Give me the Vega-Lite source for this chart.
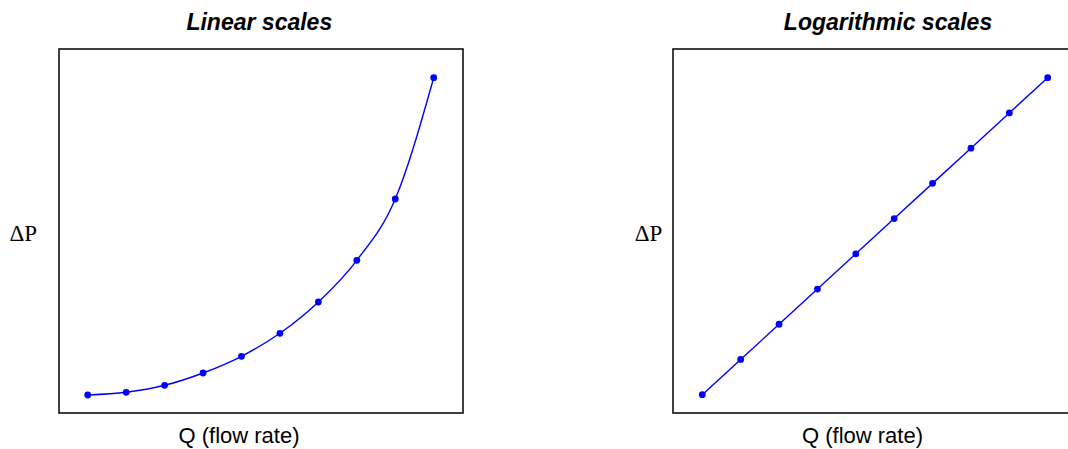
{
  "$schema": "https://vega.github.io/schema/vega-lite/v6.json",
  "padding": {"left": 8, "top": 11, "right": 0, "bottom": 0},
  "background": "#ffffff",
  "bounds": "flush",
  "spacing": 210,
  "config": {
    "view": {"stroke": "#000000", "strokeWidth": 1.5},
    "axis": {"ticks": false, "labels": false, "grid": false, "domain": false, "titleColor": "#000000", "titleFontWeight": "normal"}
  },
  "datasets": {
    "linear": [
      {"Q": 1, "dP": 18.0},
      {"Q": 2, "dP": 20.7},
      {"Q": 3, "dP": 27.7},
      {"Q": 4, "dP": 40.0},
      {"Q": 5, "dP": 56.7},
      {"Q": 6, "dP": 79.7},
      {"Q": 7, "dP": 111.0},
      {"Q": 8, "dP": 152.7},
      {"Q": 9, "dP": 214.0},
      {"Q": 10, "dP": 335.3}
    ],
    "log": [
      {"Q": 1, "dP": 1},
      {"Q": 2, "dP": 4},
      {"Q": 4, "dP": 16},
      {"Q": 8, "dP": 64},
      {"Q": 16, "dP": 256},
      {"Q": 32, "dP": 1024},
      {"Q": 64, "dP": 4096},
      {"Q": 128, "dP": 16384},
      {"Q": 256, "dP": 65536},
      {"Q": 512, "dP": 262144}
    ]
  },
  "hconcat": [
    {
      "width": 404,
      "height": 364,
      "title": {"text": "Linear scales", "font": "Liberation Sans", "fontSize": 23, "fontWeight": "bold", "fontStyle": "italic", "baseline": "alphabetic", "offset": -4, "anchor": "middle", "dx": -1.7, "color": "#000000"},
      "data": {"name": "linear"},
      "encoding": {
        "x": {"field": "Q", "type": "quantitative", "scale": {"domain": [0.253, 10.762], "nice": false, "zero": false},
          "axis": {"title": "Q (flow rate)", "titleFont": "Liberation Sans", "titleFontSize": 22, "titleAlign": "center", "titleBaseline": "alphabetic", "titleX": 179.5, "titleY": 29.7}},
        "y": {"field": "dP", "type": "quantitative", "scale": {"domain": [0, 364], "nice": false, "zero": false},
          "axis": {"title": "ΔP", "titleFont": "Liberation Serif", "titleFontSize": 23, "titleAngle": 0, "titleAlign": "left", "titleBaseline": "alphabetic", "titleX": -50, "titleY": 191}}
      },
      "layer": [
        {"mark": {"type": "line", "interpolate": "monotone", "color": "#0000ff", "strokeWidth": 1.4}},
        {"mark": {"type": "point", "filled": true, "size": 46, "color": "#0000ff", "opacity": 1}}
      ]
    },
    {
      "width": 404,
      "height": 364,
      "title": {"text": "Logarithmic scales", "font": "Liberation Sans", "fontSize": 23, "fontWeight": "bold", "fontStyle": "italic", "baseline": "alphabetic", "offset": -4, "anchor": "middle", "dx": 13, "color": "#000000"},
      "data": {"name": "log"},
      "encoding": {
        "x": {"field": "Q", "type": "quantitative", "scale": {"type": "log", "domain": [0.589, 869.2], "nice": false},
          "axis": {"title": "Q (flow rate)", "titleFont": "Liberation Sans", "titleFontSize": 22, "titleAlign": "center", "titleBaseline": "alphabetic", "titleX": 189, "titleY": 29.7}},
        "y": {"field": "dP", "type": "quantitative", "scale": {"type": "log", "domain": [0.4866, 811250], "nice": false},
          "axis": {"title": "ΔP", "titleFont": "Liberation Serif", "titleFontSize": 23, "titleAngle": 0, "titleAlign": "left", "titleBaseline": "alphabetic", "titleX": -38.7, "titleY": 191}}
      },
      "layer": [
        {"mark": {"type": "line", "color": "#0000ff", "strokeWidth": 1.4}},
        {"mark": {"type": "point", "filled": true, "size": 46, "color": "#0000ff", "opacity": 1}}
      ]
    }
  ]
}
